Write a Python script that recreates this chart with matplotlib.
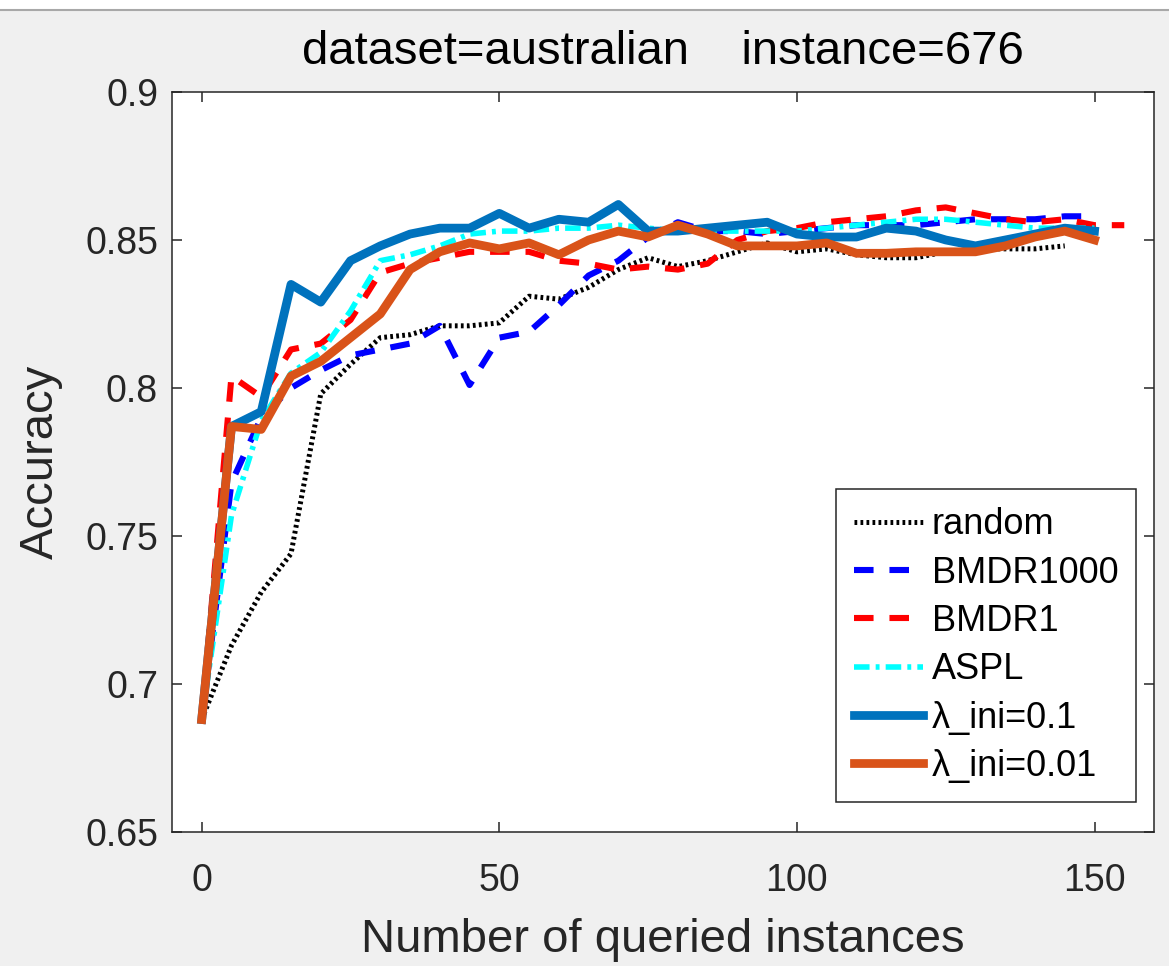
import matplotlib
matplotlib.use("Agg")
import matplotlib.pyplot as plt
from matplotlib.lines import Line2D
from matplotlib.patches import Rectangle

plt.rcParams["font.family"] = ["Liberation Sans", "DejaVu Sans"]

steps = list(range(0, 151, 5))

acc_random = [0.688, 0.713, 0.731, 0.744, 0.798, 0.808, 0.817, 0.818, 0.821, 0.821,
              0.822, 0.831, 0.830, 0.834, 0.840, 0.844, 0.841, 0.843, 0.846, 0.849,
              0.846, 0.847, 0.845, 0.844, 0.844, 0.846, 0.847, 0.847, 0.847, 0.848]
acc_bmdr1000 = [0.688, 0.768, 0.790, 0.800, 0.806, 0.811, 0.813, 0.815, 0.821, 0.801,
                0.817, 0.819, 0.828, 0.838, 0.843, 0.851, 0.856, 0.853, 0.853, 0.852,
                0.853, 0.854, 0.855, 0.855, 0.855, 0.856, 0.857, 0.857, 0.857, 0.858,
                0.858]
acc_bmdr1 = [0.688, 0.804, 0.797, 0.813, 0.815, 0.823, 0.839, 0.842, 0.844, 0.846,
             0.846, 0.846, 0.843, 0.842, 0.840, 0.841, 0.840, 0.842, 0.850, 0.853,
             0.854, 0.856, 0.857, 0.858, 0.860, 0.861, 0.859, 0.857, 0.856, 0.857,
             0.855, 0.855]
acc_aspl = [0.688, 0.757, 0.789, 0.805, 0.812, 0.826, 0.843, 0.845, 0.848, 0.852,
            0.853, 0.853, 0.854, 0.854, 0.855, 0.854, 0.853, 0.853, 0.853, 0.853,
            0.853, 0.854, 0.855, 0.856, 0.857, 0.857, 0.856, 0.855, 0.854, 0.854,
            0.854]
acc_lam01 = [0.688, 0.787, 0.792, 0.835, 0.829, 0.843, 0.848, 0.852, 0.854, 0.854,
             0.859, 0.854, 0.857, 0.856, 0.862, 0.853, 0.853, 0.854, 0.855, 0.856,
             0.852, 0.851, 0.851, 0.854, 0.853, 0.850, 0.848, 0.850, 0.852, 0.854,
             0.853]
acc_lam001 = [0.688, 0.787, 0.786, 0.804, 0.809, 0.817, 0.825, 0.840, 0.846, 0.849,
              0.847, 0.849, 0.845, 0.850, 0.853, 0.851, 0.855, 0.852, 0.848, 0.848,
              0.848, 0.849, 0.8455, 0.8455, 0.846, 0.846, 0.846, 0.848, 0.851, 0.853,
              0.850]

fig = plt.figure(figsize=(11.69, 9.66), dpi=100, facecolor="#f0f0f0")
fig.add_artist(Rectangle((0, 1 - 9 / 966), 1, 9 / 966, transform=fig.transFigure,
                         facecolor="white", edgecolor="none"))
fig.add_artist(Line2D([0, 1], [1 - 10 / 966, 1 - 10 / 966], transform=fig.transFigure,
                      color="#a8a8a8", linewidth=1.5))

ax = fig.add_axes([0.1471, 0.1387, 0.8401, 0.7661])

ax.plot(steps[:len(acc_random)], acc_random, color="black", linewidth=3.6,
        dashes=(0.55, 0.65), label="random")
ax.plot(steps[:len(acc_bmdr1000)], acc_bmdr1000, color="blue", linewidth=4.4,
        dashes=(3.2, 2.6), label="BMDR1000")
bmdr1_x = steps + [155]
ax.plot(bmdr1_x, acc_bmdr1, color="red", linewidth=4.4,
        dashes=(3.2, 2.6), label="BMDR1")
ax.plot(steps, acc_aspl, color="cyan", linewidth=4,
        dashes=(2.8, 1.1, 0.7, 1.1), label="ASPL")
ax.plot(steps, acc_lam01, color="#0072bd", linewidth=6.3, label="λ_ini=0.1")
ax.plot(steps, acc_lam001, color="#d95319", linewidth=6.3, label="λ_ini=0.01")

ax.set_xlim(-5, 160)
ax.set_ylim(0.65, 0.9)
ax.set_xticks([0, 50, 100, 150])
ax.set_yticks([0.65, 0.7, 0.75, 0.8, 0.85, 0.9])
ax.set_yticklabels(["0.65", "0.7", "0.75", "0.8", "0.85", "0.9"])

for side in ax.spines.values():
    side.set_color("#262626")
    side.set_linewidth(1.1)
ax.tick_params(direction="in", top=True, right=True, length=7, width=1.1,
               colors="#262626", labelsize=27)
ax.tick_params(axis="x", pad=22)
ax.tick_params(axis="y", pad=10)

ax.set_xlabel("Number of queried instances", fontsize=34, color="#262626", labelpad=14)
ax.set_ylabel("Accuracy", fontsize=34, color="#262626", labelpad=16)
ax.set_title("dataset=australian    instance=676", fontsize=34, color="black", pad=20)

leg = ax.legend(loc="lower right", bbox_to_anchor=(0.982, 0.0405), borderaxespad=0,
                fontsize=26, fancybox=False, framealpha=1, edgecolor="#262626",
                handlelength=1.9, handletextpad=0.25, labelspacing=0.37, borderpad=0.5)
leg.get_frame().set_linewidth(1.1)

fig.savefig("out.png", dpi=100, facecolor=fig.get_facecolor())
